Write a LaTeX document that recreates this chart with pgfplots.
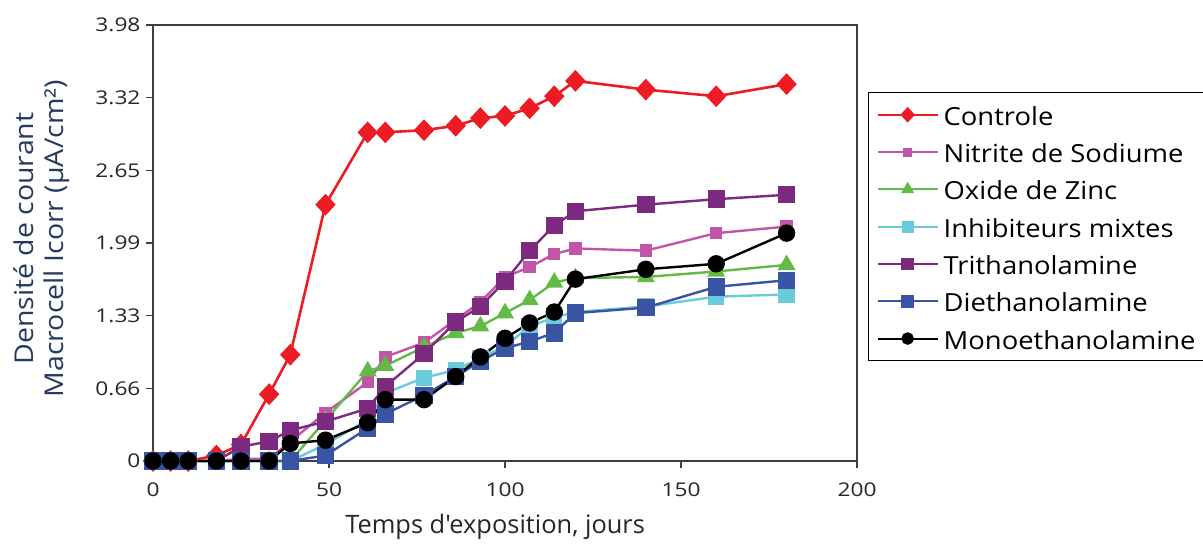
\documentclass[border=0pt]{standalone}
\usepackage{fontspec}
\setmainfont{Open Sans}[Ligatures=TeXOff]
\newfontfamily\tickfont{Open Sans}[FakeStretch=1.2]
\newfontfamily\legfont{Open Sans}[FakeStretch=1.1]
\newfontfamily\ylabfont{Open Sans}[FakeStretch=1.1]
\usepackage{pgfplots}
\pgfplotsset{compat=1.18}
\definecolor{cRed}{HTML}{ED1C24}
\definecolor{cPink}{HTML}{C355A9}
\definecolor{cGreen}{HTML}{62BB46}
\definecolor{cCyan}{HTML}{6ACBDB}
\definecolor{cPurple}{HTML}{7B2A7F}
\definecolor{cBlue}{HTML}{3A54A4}
\definecolor{axisgray}{HTML}{404040}
\definecolor{ticktext}{HTML}{262626}
\definecolor{ylabcol}{HTML}{243A5E}
\begin{document}
\begin{tikzpicture}
\begin{axis}[
 width=704bp, height=436bp, scale only axis,
 xmin=0, xmax=200, ymin=0, ymax=3.98,
 xtick={0,50,100,150,200},
 ytick={0,0.66,1.33,1.99,2.65,3.32,3.98},
 yticklabels={0,0.66,1.33,1.99,2.65,3.32,3.98},
 xtick pos=bottom, ytick pos=left,
 tick align=outside, major tick length=7bp,
 axis line style={draw=axisgray, line width=1.5bp},
 every tick/.style={draw=axisgray, line width=1.3bp},
 tick label style={font=\tickfont\fontsize{19}{21}\selectfont, text=ticktext},
 xticklabel style={yshift=-11bp},
 yticklabel style={xshift=-2bp},
 /pgf/number format/assume math mode=true,
 clip=false,
 xlabel={Temps d'exposition, jours},
 xlabel style={font=\fontsize{25.5}{28}\selectfont, text=ticktext, at={(axis description cs:0.486,-0.151)}, anchor=center},
 ylabel={Densité de courant\\Macrocell Icorr (µA/cm²)},
 ylabel style={align=center, font=\ylabfont\fontsize{26}{30}\selectfont, text=ylabcol, at={(axis description cs:-0.158,0.51)}, anchor=center},
 legend style={at={(axis description cs:1,1)}, anchor=north west, xshift=11bp, yshift=-67bp,
   draw=black, line width=1.3bp, font=\legfont\fontsize{25}{28}\selectfont, text=black,
   inner xsep=8bp, inner ysep=8.6bp, row sep=10.3bp,
   nodes={inner xsep=5bp, inner ysep=0pt, text height=24bp, text depth=3bp}},
 legend cell align=left,
 legend image code/.code={\draw[mark repeat=2,mark phase=2,#1,line width=2bp, every mark/.append style={scale=0.7}] plot coordinates {(0bp,0bp)(30bp,0bp)(60bp,0bp)};},
]
\addplot[cRed, line width=2.6bp, mark=diamond*, mark size=9bp, mark options={fill=cRed, draw=cRed, xscale=1.25}] coordinates {
(0,0)(5,0)(10,0)(18,0.05)(25,0.15)(33,0.61)(39,0.97)(49,2.34)(61,3.00)(66,3.00)(77,3.02)(86,3.06)(93,3.13)(100,3.15)(107,3.22)(114,3.33)(120,3.47)(140,3.39)(160,3.33)(180,3.44)};
\addlegendentry{Controle}
\addplot[cPink, line width=2.4bp, mark=square*, mark size=5bp, mark options={fill=cPink, draw=cPink}] coordinates {
(0,0)(5,0)(10,0)(18,0)(25,0.02)(33,0.02)(49,0.44)(61,0.72)(66,0.95)(77,1.08)(86,1.29)(93,1.45)(100,1.68)(107,1.77)(114,1.89)(120,1.94)(140,1.92)(160,2.08)(180,2.14)};
\addlegendentry{Nitrite de Sodiume}
\addplot[cGreen, line width=2.4bp, mark=triangle*, mark size=8bp, mark options={fill=cGreen, draw=cGreen}] coordinates {
(0,0)(5,0)(10,0)(18,0)(25,0)(33,0)(39,0)(49,0.37)(61,0.82)(66,0.87)(77,1.04)(86,1.17)(93,1.23)(100,1.35)(107,1.47)(114,1.63)(120,1.67)(140,1.68)(160,1.73)(180,1.79)};
\addlegendentry{Oxide de Zinc}
\addplot[cCyan, line width=2.4bp, mark=square*, mark size=7bp, mark options={fill=cCyan, draw=cCyan}] coordinates {
(0,0)(5,0)(10,0)(18,0)(25,0)(33,0)(39,0)(49,0.15)(61,0.38)(66,0.62)(77,0.76)(86,0.83)(93,0.94)(100,1.05)(107,1.23)(114,1.31)(120,1.36)(140,1.41)(160,1.50)(180,1.52)};
\addlegendentry{Inhibiteurs mixtes}
\addplot[cPurple, line width=2.4bp, mark=square*, mark size=7.5bp, mark options={fill=cPurple, draw=cPurple}] coordinates {
(0,0)(5,0)(10,0)(18,0)(25,0.13)(33,0.18)(39,0.28)(49,0.36)(61,0.48)(66,0.68)(77,0.98)(86,1.27)(93,1.41)(100,1.64)(107,1.92)(114,2.15)(120,2.28)(140,2.34)(160,2.39)(180,2.43)};
\addlegendentry{Trithanolamine}
\addplot[cBlue, line width=2.4bp, mark=square*, mark size=7.5bp, mark options={fill=cBlue, draw=cBlue}] coordinates {
(0,0)(5,0)(10,0)(18,0)(25,0)(33,0)(39,0)(49,0.05)(61,0.30)(66,0.43)(77,0.60)(86,0.77)(93,0.91)(100,1.03)(107,1.09)(114,1.17)(120,1.35)(140,1.40)(160,1.59)(180,1.65)};
\addlegendentry{Diethanolamine}
\addplot[black, line width=2.4bp, mark=*, mark size=7.5bp, mark options={fill=black, draw=black}] coordinates {
(0,0)(5,0)(10,0)(18,0)(25,0)(33,0)(39,0.16)(49,0.19)(61,0.35)(66,0.56)(77,0.56)(86,0.77)(93,0.95)(100,1.12)(107,1.26)(114,1.36)(120,1.66)(140,1.75)(160,1.80)(180,2.08)};
\addlegendentry{Monoethanolamine}
\end{axis}
\pgfresetboundingbox
\path[use as bounding box] ([xshift=-153bp,yshift=-83bp]current axis.south west) rectangle ([xshift=346bp,yshift=25bp]current axis.north east);
\end{tikzpicture}
\end{document}
